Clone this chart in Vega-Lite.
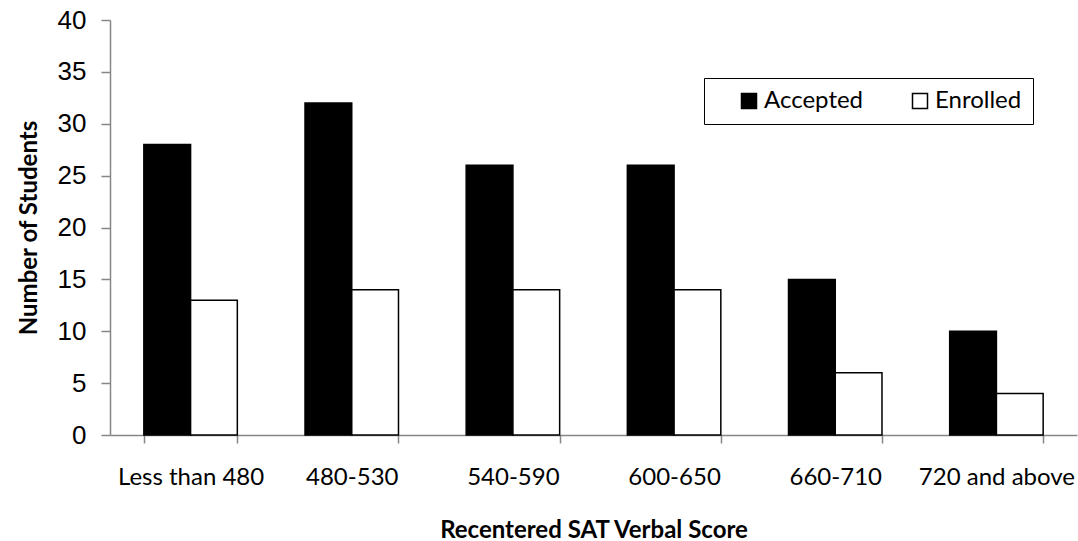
{
  "$schema": "https://vega.github.io/schema/vega-lite/v6.json",
  "width": 967,
  "height": 415,
  "autosize": {"type": "none"},
  "padding": {"left": 110, "top": 20, "right": 1, "bottom": 106},
  "background": "white",
  "config": {
    "view": {"stroke": null},
    "font": "Lato"
  },
  "data": {
    "values": [
      {"score": "Less than 480", "status": "Accepted", "count": 28},
      {"score": "Less than 480", "status": "Enrolled", "count": 13},
      {"score": "480-530", "status": "Accepted", "count": 32},
      {"score": "480-530", "status": "Enrolled", "count": 14},
      {"score": "540-590", "status": "Accepted", "count": 26},
      {"score": "540-590", "status": "Enrolled", "count": 14},
      {"score": "600-650", "status": "Accepted", "count": 26},
      {"score": "600-650", "status": "Enrolled", "count": 14},
      {"score": "660-710", "status": "Accepted", "count": 15},
      {"score": "660-710", "status": "Enrolled", "count": 6},
      {"score": "720 and above", "status": "Accepted", "count": 10},
      {"score": "720 and above", "status": "Enrolled", "count": 4}
    ]
  },
  "mark": {"type": "bar", "stroke": "black", "strokeWidth": 1.5},
  "encoding": {
    "x": {
      "field": "score",
      "type": "nominal",
      "sort": null,
      "scale": {"paddingInner": 0.42, "paddingOuter": 0.21},
      "axis": {
        "title": "Recentered SAT Verbal Score",
        "titleFont": "Lato",
        "titleFontWeight": "bold",
        "titleFontSize": 24,
        "titleColor": "black",
        "titlePadding": 29,
        "labelAngle": 0,
        "labelFont": "Lato",
        "labelFontSize": 24,
        "labelColor": "black",
        "labelPadding": 22,
        "tickBand": "extent",
        "tickSize": 8,
        "tickColor": "#868686",
        "tickWidth": 1.5,
        "domainColor": "#868686",
        "domainWidth": 1.5,
        "grid": false
      }
    },
    "xOffset": {"field": "status", "type": "nominal", "sort": ["Accepted", "Enrolled"], "scale": {"paddingInner": 0, "paddingOuter": 0}},
    "y": {
      "field": "count",
      "type": "quantitative",
      "scale": {"domain": [0, 40], "nice": false},
      "axis": {
        "title": "Number of Students",
        "titleFont": "Lato",
        "titleFontWeight": "bold",
        "titleFontSize": 24,
        "titleColor": "black",
        "titlePadding": 16,
        "values": [0, 5, 10, 15, 20, 25, 30, 35, 40],
        "labelFont": "Liberation Sans",
        "labelFontSize": 26,
        "labelColor": "black",
        "labelPadding": 15,
        "tickSize": 9,
        "tickColor": "#868686",
        "tickWidth": 1.5,
        "domainColor": "#868686",
        "domainWidth": 1.5,
        "grid": false
      }
    },
    "fill": {
      "field": "status",
      "type": "nominal",
      "sort": ["Accepted", "Enrolled"],
      "scale": {"domain": ["Accepted", "Enrolled"], "range": ["black", "white"]},
      "legend": {
        "title": null,
        "orient": "none",
        "direction": "horizontal",
        "legendX": 594,
        "legendY": 58,
        "padding": 11,
        "strokeColor": "black",
        "fillColor": "white",
        "symbolType": "square",
        "symbolSize": 225,
        "symbolStrokeColor": "black",
        "symbolStrokeWidth": 1.5,
        "symbolOffset": 22,
        "labelFont": "Lato",
        "labelFontSize": 24,
        "labelColor": "black",
        "labelOffset": 3,
        "labelExpr": "datum.label + '  '",
        "columnPadding": 22
      }
    }
  }
}
